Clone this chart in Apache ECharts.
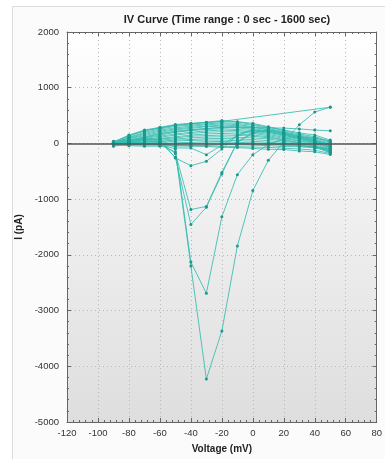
<!DOCTYPE html>
<html>
<head>
<meta charset="utf-8">
<script src="https://cdn.jsdelivr.net/npm/echarts@6/dist/echarts.min.js"></script>
<style>
  html, body { margin: 0; padding: 0; background: #fff; }
  #chart { width: 385px; height: 459px; }
</style>
</head>
<body>
<div id="chart"></div>
<script>
// voltage steps of every sweep (mV)
const voltages = [-90, -80, -70, -60, -50, -40, -30, -20, -10, 0, 10, 20, 30, 40, 50];

// currents (pA) of the sweeps that make the arch near zero
const archSweeps = [
  [20, 150, 240, 290, 340, 360, 380, 410, 390, 360, 300, 240, 190, 150, 60],
  [10, 130, 225, 275, 320, 350, 375, 390, 385, 340, 290, 230, 170, 120, 40],
  [0, 110, 200, 260, 305, 330, 350, 370, 360, 325, 270, 210, 150, 100, 20],
  [-10, 100, 180, 240, 280, 310, 335, 350, 340, 300, 250, 190, 130, 80, 0],
  [30, 90, 160, 220, 260, 290, 310, 330, 320, 290, 240, 185, 120, 60, -20],
  [-20, 80, 140, 200, 245, 270, 300, 310, 300, 270, 220, 160, 100, 50, -40],
  [0, 60, 120, 180, 220, 250, 270, 290, 280, 250, 205, 150, 90, 30, -60],
  [10, 50, 100, 150, 200, 230, 250, 265, 250, 230, 180, 130, 70, 10, -80],
  [-30, 40, 90, 130, 170, 200, 225, 240, 230, 200, 160, 110, 50, 0, -100],
  [0, 30, 70, 110, 150, 180, 200, 210, 205, 180, 140, 90, 40, -20, -120],
  [-40, 20, 60, 90, 120, 150, 170, 180, 170, 150, 120, 70, 20, -40, -140],
  [20, 20, 50, 80, 100, 130, 140, 150, 145, 130, 100, 60, 10, -50, -160],
  [-10, 10, 30, 60, 80, 100, 115, 120, 110, 100, 80, 40, 0, -60, -170],
  [0, 0, 20, 40, 60, 70, 85, 90, 80, 70, 50, 20, -20, -70, -150],
  [-50, -10, 10, 20, 40, 55, 60, 60, 50, 40, 20, 0, -30, -80, -130],
  [0, -20, -10, 0, 10, 20, 30, 35, 20, 10, 0, -20, -40, -70, -110],
  [-20, -30, -30, -20, -10, 0, 5, 10, 0, -10, -20, -30, -50, -60, -90],
  [10, 0, -10, -20, -30, -40, -30, -20, -25, -30, -40, -55, -60, -80, -100],
  [-30, -40, -50, -50, -40, -30, -40, -50, -60, -65, -70, -85, -100, -120, -180],
  [0, -10, -25, -30, -45, -50, -55, -70, -75, -90, -105, -110, -135, -150, -200],
  [40, 60, 110, 170, 210, 240, 265, 285, 290, 285, 280, 275, 260, 240, 227]
];

// sweeps with an inward current
const deepSweep = [-20, 10, 0, -30, -150, -2200, -4230, -3366, -1843, -847, -304, 30, 335, 562, 652];
const midSweep = [0, 20, 10, -20, -100, -2130, -2690, -1318, -560, -202, -20, 80, 120, 100, 40];
const smallSweepA = [10, 40, 60, 30, -250, -1455, -1145, -548, 30, 200, 250, 200, 130, 60, -20];
const smallSweepB = [0, 30, 50, 20, -180, -1187, -1130, -520, 20, 180, 230, 180, 110, 40, -40];
const weakSweepA = [0, 50, 90, 60, -261, -399, -322, -100, 150, 240, 220, 170, 100, 30, -50];
const weakSweepB = [-10, 40, 80, 70, -80, -83, -202, -30, 150, 230, 200, 150, 80, 20, -70];

// one sweep that skips from -20 mV to 50 mV
const jumpVoltages = [-90, -80, -70, -60, -50, -40, -30, -20, 50];
const jumpSweep = [30, 140, 230, 280, 330, 355, 375, 395, 650];

const xTicks = { min: -120, max: 80, step: 20 };
const yTicks = { min: -5000, max: 2000, step: 1000 };

const teal = '#36bcb0';
const tealDot = '#1a998d';
const font = 'Liberation Sans, Arial, sans-serif';

function pairs(xs, ys) {
  return ys.map((y, i) => [xs[i], y]);
}

const allSweeps = archSweeps.map(s => pairs(voltages, s)).concat([
  pairs(voltages, deepSweep),
  pairs(voltages, midSweep),
  pairs(voltages, smallSweepA),
  pairs(voltages, smallSweepB),
  pairs(voltages, weakSweepA),
  pairs(voltages, weakSweepB),
  pairs(jumpVoltages, jumpSweep)
]);

const series = allSweeps.map(d => ({
  type: 'line',
  data: d,
  xAxisIndex: 0,
  yAxisIndex: 0,
  symbol: 'circle',
  symbolSize: 3,
  showSymbol: true,
  itemStyle: { color: tealDot },
  lineStyle: { color: teal, width: 1, opacity: 0.85 },
  silent: true,
  animation: false,
  z: 3
}));

// zero line
series.push({
  type: 'line',
  data: [],
  xAxisIndex: 0,
  yAxisIndex: 0,
  markLine: {
    silent: true,
    symbol: 'none',
    label: { show: false },
    lineStyle: { color: '#555', width: 1.5, type: 'solid' },
    data: [{ yAxis: 0 }]
  },
  animation: false,
  z: 4
});

const chart = echarts.init(document.getElementById('chart'));

// mirrored axes on top and right: line and ticks only
const tickAxis = (pos, isX) => ({
  type: 'value',
  position: pos,
  min: isX ? xTicks.min : yTicks.min,
  max: isX ? xTicks.max : yTicks.max,
  interval: isX ? xTicks.step : yTicks.step,
  axisLine: { show: true, onZero: false, lineStyle: { color: '#666', width: 1 } },
  axisTick: { show: true, inside: true, length: 4, lineStyle: { color: '#666' } },
  minorTick: { show: true, splitNumber: 5, length: 2, lineStyle: { color: '#666' } },
  axisLabel: { show: false },
  splitLine: { show: false }
});

chart.setOption({
  backgroundColor: '#ffffff',
  animation: false,
  graphic: [{
    type: 'rect',
    shape: { x: 12.5, y: 6.5, width: 390, height: 470 },
    style: { fill: '#fbfbfb', stroke: '#dcdcdc', lineWidth: 1 },
    z: -10
  }],
  title: {
    text: 'IV Curve (Time range : 0 sec - 1600 sec)',
    left: 222,
    textAlign: 'center',
    top: 9,
    textStyle: { fontFamily: font, fontSize: 11, fontWeight: 'bold', color: '#222' }
  },
  grid: {
    left: 67, right: 8, top: 32, bottom: 36,
    show: true,
    borderWidth: 0,
    backgroundColor: {
      type: 'linear', x: 0, y: 0, x2: 0, y2: 1,
      colorStops: [{ offset: 0, color: '#ffffff' }, { offset: 1, color: '#dedede' }]
    }
  },
  xAxis: [{
    type: 'value',
    min: xTicks.min,
    max: xTicks.max,
    interval: xTicks.step,
    name: 'Voltage (mV)',
    nameLocation: 'middle',
    nameGap: 22,
    nameTextStyle: { fontFamily: font, fontSize: 10, fontWeight: 'bold', color: '#222' },
    axisLine: { show: true, onZero: false, lineStyle: { color: '#666', width: 1 } },
    axisTick: { show: true, inside: true, length: 4, lineStyle: { color: '#666' } },
    minorTick: { show: true, splitNumber: 5, length: 2, lineStyle: { color: '#666' } },
    axisLabel: { fontFamily: font, fontSize: 9.5, color: '#333', margin: 6, formatter: v => String(v) },
    splitLine: { show: true, lineStyle: { color: '#b8b8b8', type: [1, 3], width: 1 } }
  }, tickAxis('top', true)],
  yAxis: [{
    type: 'value',
    min: yTicks.min,
    max: yTicks.max,
    interval: yTicks.step,
    name: 'I (pA)',
    nameLocation: 'middle',
    nameGap: 36,
    nameRotate: 90,
    nameTextStyle: { fontFamily: font, fontSize: 10, fontWeight: 'bold', color: '#222' },
    axisLine: { show: true, onZero: false, lineStyle: { color: '#666', width: 1 } },
    axisTick: { show: true, inside: true, length: 4, lineStyle: { color: '#666' } },
    minorTick: { show: true, splitNumber: 5, length: 2, lineStyle: { color: '#666' } },
    axisLabel: { fontFamily: font, fontSize: 9.5, color: '#333', margin: 8, formatter: v => String(v) },
    splitLine: { show: true, lineStyle: { color: '#b8b8b8', type: [1, 3], width: 1 } }
  }, tickAxis('right', false)],
  series: series
});
</script>
</body>
</html>
